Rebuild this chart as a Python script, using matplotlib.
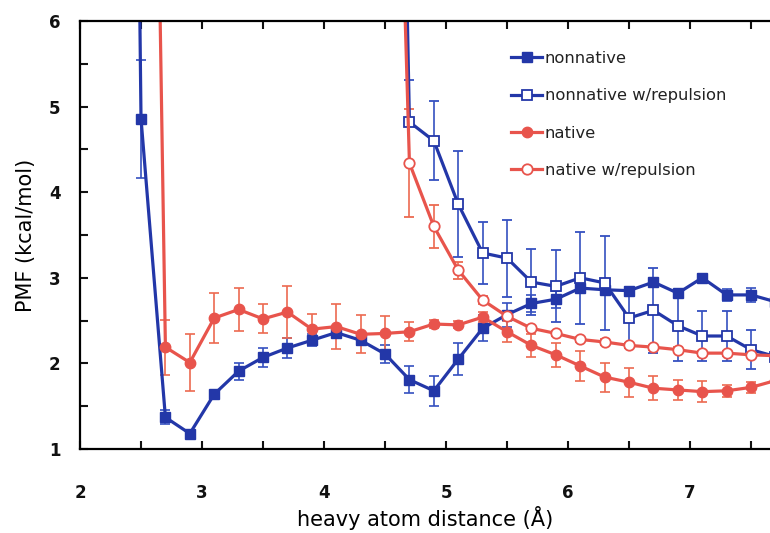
import matplotlib
matplotlib.use("Agg")
import matplotlib.pyplot as plt
import numpy as np
from matplotlib.ticker import MultipleLocator

# distances (Å)
x_nn = [2.3, 2.5, 2.7, 2.9, 3.1, 3.3, 3.5, 3.7, 3.9, 4.1, 4.3, 4.5, 4.7, 4.9, 5.1, 5.3,
        5.5, 5.7, 5.9, 6.1, 6.3, 6.5, 6.7, 6.9, 7.1, 7.3, 7.5, 7.7]
nonnative = [30.0, 4.86, 1.37, 1.18, 1.64, 1.91, 2.07, 2.18, 2.27, 2.36, 2.27, 2.11, 1.81, 1.68,
             2.05, 2.41, 2.57, 2.70, 2.75, 2.88, 2.86, 2.85, 2.95, 2.82, 3.00, 2.80, 2.80, 2.72]
nonnative_err = [0.0, 0.69, 0.08, 0.04, 0.04, 0.10, 0.11, 0.12, 0.07, 0.05, 0.06, 0.10, 0.16, 0.175,
                 0.19, 0.15, 0.14, 0.10, 0.10, 0.05, 0.04, 0.04, 0.04, 0.04, 0.04, 0.07, 0.08, 0.05]

x_nnr = [4.5, 4.7, 4.9, 5.1, 5.3, 5.5, 5.7, 5.9, 6.1, 6.3, 6.5, 6.7, 6.9, 7.1, 7.3, 7.5, 7.7]
nonnative_rep = [19.0, 4.82, 4.60, 3.86, 3.29, 3.23, 2.95, 2.90, 3.00, 2.94, 2.53, 2.62, 2.44,
                 2.32, 2.32, 2.16, 2.08]
nonnative_rep_err = [0.0, 0.49, 0.46, 0.62, 0.36, 0.45, 0.39, 0.42, 0.54, 0.55, 0.29, 0.50, 0.41,
                     0.29, 0.29, 0.23, 0.2]

x_n = [2.5, 2.7, 2.9, 3.1, 3.3, 3.5, 3.7, 3.9, 4.1, 4.3, 4.5, 4.7, 4.9, 5.1, 5.3, 5.5,
       5.7, 5.9, 6.1, 6.3, 6.5, 6.7, 6.9, 7.1, 7.3, 7.5, 7.7]
native = [20.0, 2.19, 2.01, 2.53, 2.63, 2.52, 2.60, 2.40, 2.43, 2.34, 2.35, 2.37, 2.46, 2.45,
          2.54, 2.37, 2.21, 2.10, 1.97, 1.84, 1.78, 1.71, 1.69, 1.67, 1.68, 1.72, 1.80]
native_err = [0.0, 0.32, 0.33, 0.29, 0.25, 0.17, 0.30, 0.18, 0.26, 0.22, 0.20, 0.11, 0.05, 0.04,
              0.06, 0.12, 0.13, 0.14, 0.18, 0.17, 0.17, 0.14, 0.12, 0.12, 0.07, 0.06, 0.05]

x_nr = [4.5, 4.7, 4.9, 5.1, 5.3, 5.5, 5.7, 5.9, 6.1, 6.3, 6.5, 6.7, 6.9, 7.1, 7.3, 7.5, 7.7]
native_rep = [14.0, 4.34, 3.60, 3.09, 2.74, 2.55, 2.41, 2.35, 2.28, 2.25, 2.21, 2.19, 2.16,
              2.12, 2.12, 2.10, 2.09]
native_rep_err = [0.0, 0.63, 0.25, 0.10, 0.05, 0.03, 0.03, 0.03, 0.03, 0.03, 0.03, 0.03, 0.03,
                  0.03, 0.03, 0.03, 0.03]

labels = ["nonnative", "nonnative w/repulsion", "native", "native w/repulsion"]

BLUE = "#2337a8"
BLUE_E = "#3550c0"
RED = "#e8544c"
RED_E = "#ec6a50"

fig = plt.figure(figsize=(7.7, 5.33), dpi=100)
ax = fig.add_axes([80/770, 1-449/533, 1-80/770, (449-21)/533])

common = dict(lw=2.3, elinewidth=1.2, capsize=3.5, capthick=1.2)
c1 = ax.errorbar(x_nn, nonnative, yerr=nonnative_err, color=BLUE, ecolor=BLUE_E, marker="s",
                 ms=7, mfc=BLUE, mec=BLUE, **common)
c2 = ax.errorbar(x_nnr, nonnative_rep, yerr=nonnative_rep_err, color=BLUE, ecolor=BLUE_E, marker="s",
                 ms=7, mfc="white", mec=BLUE, mew=1.3, **common)
c3 = ax.errorbar(x_n, native, yerr=native_err, color=RED, ecolor=RED_E, marker="o",
                 ms=7.5, mfc=RED, mec=RED, **common)
c4 = ax.errorbar(x_nr, native_rep, yerr=native_rep_err, color=RED, ecolor=RED_E, marker="o",
                 ms=7.5, mfc="white", mec=RED, mew=1.3, **common)

ax.set_xlim(2, 7.655)
ax.set_ylim(1, 6)
ax.xaxis.set_major_locator(MultipleLocator(0.5))
ax.yaxis.set_major_locator(MultipleLocator(0.5))

def fmt(v, pos):
    return "%d" % v if abs(v - round(v)) < 1e-6 else ""
ax.xaxis.set_major_formatter(plt.FuncFormatter(fmt))
ax.yaxis.set_major_formatter(plt.FuncFormatter(fmt))

ax.tick_params(direction="in", length=6, width=1.5, top=True, right=False,
               labelsize=12, colors="#111111")
ax.tick_params(axis="x", pad=25)
ax.tick_params(axis="y", pad=14)
for lab in ax.get_xticklabels() + ax.get_yticklabels():
    lab.set_fontweight("bold")
for s in ["left", "bottom", "top"]:
    ax.spines[s].set_linewidth(1.6)
ax.spines["right"].set_visible(False)

ax.set_xlabel("heavy atom distance (Å)", fontsize=15, labelpad=3)
ax.set_ylabel("PMF (kcal/mol)", fontsize=15, labelpad=9)

handles = [c[0] for c in (c1, c2, c3, c4)]
leg = fig.legend(handles, labels, loc="upper left", bbox_to_anchor=(511/770, 1-51/533),
                 frameon=False, fontsize=11.8, handlelength=1.9, handletextpad=0.15,
                 labelspacing=1.36, borderpad=0, borderaxespad=0)
for t in leg.get_texts():
    t.set_color("#222222")

fig.savefig("out.png", dpi=100)
